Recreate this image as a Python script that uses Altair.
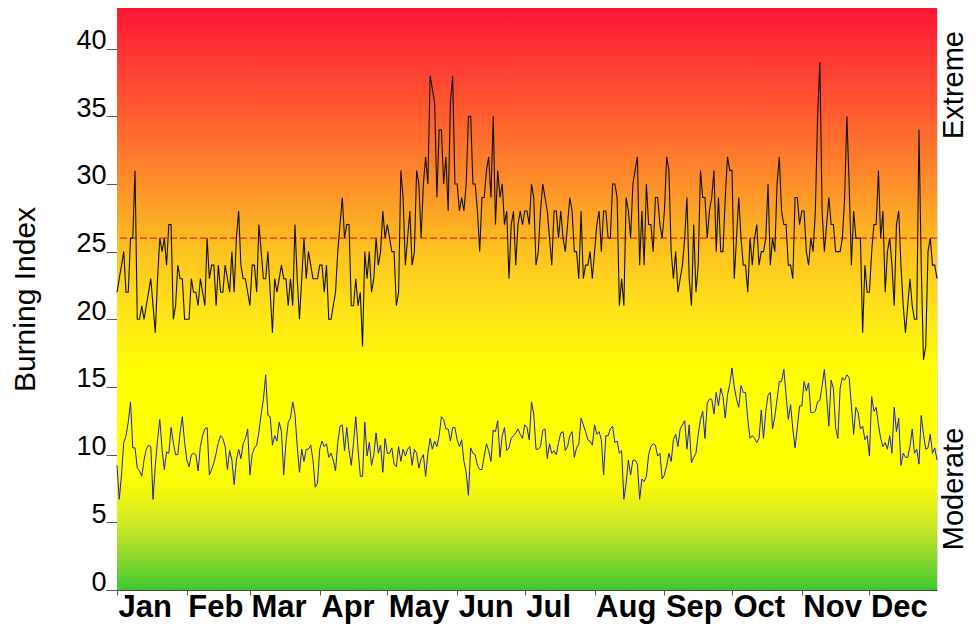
import altair as alt
import pandas as pd

MONTHS = ["Jan", "Feb", "Mar", "Apr", "May", "Jun", "Jul", "Aug", "Sep", "Oct", "Nov", "Dec"]
MONTH_START = [0, 31, 59, 90, 120, 151, 181, 212, 243, 273, 304, 334]
Y_TICKS = [0, 5, 10, 15, 20, 25, 30, 35, 40]
THRESHOLD = 26

BI = [
    22, 23, 24, 25, 22, 22, 26, 26, 31, 20,
    20, 21, 20, 21, 22, 23, 21, 19, 23, 26,
    25, 26, 24, 27, 27, 20, 21, 24, 23, 23,
    20, 20, 20, 23, 22, 22, 21, 23, 22, 21,
    26, 23, 24, 24, 21, 24, 22, 22, 24, 23,
    22, 25, 22, 26, 28, 24, 23, 23, 22, 21,
    24, 24, 22, 27, 25, 23, 23, 25, 22, 19,
    23, 22, 23, 24, 23, 23, 21, 23, 21, 27,
    23, 20, 23, 26, 23, 25, 24, 23, 23, 23,
    24, 24, 22, 24, 20, 20, 21, 22, 25, 27,
    29, 26, 27, 27, 21, 21, 23, 21, 22, 18,
    25, 23, 25, 22, 23, 26, 24, 25, 28, 26,
    27, 26, 25, 25, 21, 22, 31, 29, 24, 26,
    28, 24, 25, 31, 30, 26, 30, 32, 30, 38,
    37, 36, 29, 34, 34, 30, 32, 28, 36, 38,
    30, 30, 28, 29, 28, 30, 35, 35, 30, 30,
    28, 25, 29, 29, 31, 32, 29, 35, 27, 31,
    29, 30, 27, 28, 23, 27, 28, 24, 27, 28,
    27, 28, 28, 27, 30, 29, 24, 25, 28, 30,
    29, 28, 26, 24, 28, 28, 26, 28, 26, 25,
    27, 29, 28, 25, 25, 23, 28, 23, 24, 24,
    25, 23, 25, 27, 28, 25, 28, 28, 26, 26,
    30, 30, 29, 21, 23, 21, 29, 28, 26, 30,
    31, 32, 24, 28, 24, 30, 27, 27, 25, 29,
    29, 27, 26, 28, 32, 31, 25, 23, 25, 22,
    23, 24, 26, 29, 23, 21, 27, 22, 24, 31,
    29, 29, 26, 28, 29, 31, 25, 29, 25, 25,
    29, 32, 31, 31, 23, 26, 29, 26, 24, 24,
    22, 26, 24, 26, 27, 24, 25, 25, 26, 30,
    24, 26, 25, 30, 32, 28, 27, 27, 24, 24,
    23, 29, 29, 27, 28, 28, 25, 24, 26, 25,
    28, 35, 39, 28, 25, 27, 29, 27, 27, 25,
    25, 25, 26, 29, 35, 30, 24, 28, 26, 26,
    26, 19, 24, 22, 22, 25, 27, 27, 31, 26,
    28, 22, 25, 26, 24, 21, 27, 28, 24, 21,
    19, 21, 23, 21, 20, 20, 34, 24, 17, 18,
    25, 26, 24, 24, 23,
]

LOWER = [
    9.2, 6.7, 8.5, 10.9, 11.4, 12.4, 13.9, 10.5, 10.5, 9.0,
    8.8, 8.4, 9.6, 10.4, 10.7, 10.6, 6.7, 9.2, 11.1, 12.6,
    10.4, 8.9, 10.2, 10.1, 12.0, 10.9, 10.0, 10.0, 11.6, 12.8,
    10.9, 9.6, 9.1, 10.0, 10.1, 10.0, 8.8, 10.6, 11.4, 11.9,
    12.0, 8.5, 8.9, 9.4, 10.1, 10.9, 11.4, 11.2, 10.6, 8.9,
    10.3, 9.6, 7.8, 9.6, 10.4, 9.7, 10.8, 11.2, 11.9, 8.5,
    10.0, 10.5, 10.7, 11.7, 13.0, 14.1, 15.9, 12.9, 12.8, 10.7,
    11.4, 11.0, 12.4, 11.7, 8.5, 10.9, 12.4, 12.7, 13.9, 13.0,
    10.6, 8.7, 10.4, 9.5, 10.4, 10.4, 10.7, 9.6, 7.6, 7.9,
    10.4, 11.0, 10.6, 10.8, 9.8, 10.1, 9.6, 8.8, 10.9, 12.1,
    12.2, 10.3, 12.0, 10.3, 9.2, 10.9, 12.8, 10.4, 8.4, 8.4,
    12.4, 9.9, 10.9, 9.2, 10.0, 11.6, 10.1, 10.7, 8.7, 11.2,
    10.1, 10.1, 10.5, 9.3, 9.1, 10.6, 9.5, 10.4, 9.9, 10.4,
    10.6, 9.2, 10.4, 10.1, 9.0, 9.7, 10.0, 8.4, 10.1, 11.2,
    10.4, 11.0, 10.6, 11.4, 12.8, 12.6, 11.9, 11.9, 11.0, 12.0,
    12.0, 11.1, 10.6, 11.1, 9.5, 8.7, 7.0, 10.5, 10.1, 10.0,
    9.2, 8.9, 8.9, 9.9, 10.8, 10.3, 9.5, 11.8, 11.7, 12.5,
    9.8, 11.4, 12.0, 10.3, 10.5, 11.2, 11.4, 11.6, 11.9, 11.5,
    11.2, 12.2, 12.0, 11.1, 13.9, 13.0, 10.4, 10.4, 10.6, 11.8,
    11.9, 9.7, 10.8, 10.1, 10.3, 10.0, 10.9, 11.6, 11.7, 10.3,
    10.6, 11.4, 11.7, 9.8, 10.5, 10.8, 12.7, 12.2, 11.7, 11.1,
    11.0, 10.7, 12.2, 11.5, 11.7, 11.1, 8.5, 11.4, 11.4, 11.9,
    12.1, 10.9, 11.0, 10.1, 10.3, 6.7, 7.9, 9.6, 8.5, 9.6,
    9.6, 9.3, 6.7, 8.2, 8.0, 8.4, 10.0, 10.6, 10.8, 10.7,
    9.9, 10.1, 8.2, 8.5, 9.2, 10.1, 9.5, 11.1, 11.5, 10.6,
    11.9, 12.2, 12.5, 10.4, 12.2, 9.4, 9.8, 10.1, 11.5, 12.6,
    13.2, 11.2, 13.8, 14.1, 14.1, 13.0, 14.6, 13.6, 14.9, 14.3,
    12.7, 14.4, 15.2, 16.4, 15.0, 14.1, 13.5, 15.1, 14.6, 14.6,
    12.6, 11.2, 11.4, 11.2, 10.9, 11.2, 13.3, 11.2, 13.2, 14.4,
    14.6, 11.9, 12.8, 14.1, 15.4, 15.4, 16.3, 14.4, 12.6, 13.7,
    11.9, 10.5, 12.0, 13.6, 13.6, 15.4, 14.7, 15.3, 13.1, 13.1,
    13.2, 13.9, 14.0, 15.1, 16.3, 14.3, 12.1, 15.5, 14.9, 12.0,
    11.2, 14.9, 15.7, 15.5, 15.9, 15.7, 13.6, 11.5, 13.5, 13.1,
    11.9, 12.1, 11.1, 11.4, 9.9, 14.3, 13.2, 13.5, 12.2, 11.2,
    10.6, 10.9, 10.4, 11.4, 10.1, 13.5, 11.7, 12.7, 9.2, 10.1,
    9.8, 9.8, 10.6, 11.9, 10.1, 10.4, 9.3, 12.9, 11.5, 10.4,
    10.5, 11.5, 10.1, 10.5, 9.6,
]

W, H = 820, 582
FONT = "Liberation Sans"

df_bi = pd.DataFrame({"day": list(range(len(BI))), "value": BI})
df_lo = pd.DataFrame({"day": list(range(len(LOWER))), "value": LOWER})
one = pd.DataFrame({"k": [0]})

month_js = "[" + ",".join("'%s'" % m for m in MONTHS) + "]"
start_js = "[" + ",".join(str(s) for s in MONTH_START) + "]"

x_scale = alt.Scale(domain=[0, 364], nice=False, zero=False)
y_scale = alt.Scale(domain=[0, 43], nice=False, zero=True)

x_axis = alt.Axis(
    values=MONTH_START,
    labelExpr=f"{month_js}[indexof({start_js}, datum.value)]",
    title=None,
    grid=False,
    labelFont=FONT,
    labelFontSize=31,
    labelFontWeight="bold",
    labelColor="black",
    labelAlign="left",
    labelBaseline="alphabetic",
    labelPadding=21,
    labelFlush=False,
    labelOverlap=False,
    labelOffset=1,
    tickSize=5,
    tickColor="#555555",
    domainColor="#444444",
)

y_axis = alt.Axis(
    values=Y_TICKS,
    title="Burning Index",
    grid=False,
    labelFont=FONT,
    labelFontSize=27,
    labelColor="black",
    labelBaseline="alphabetic",
    labelPadding=0,
    labelOverlap=False,
    tickSize=11,
    tickColor="#555555",
    domainColor="#444444",
    titleFont=FONT,
    titleFontSize=30,
    titleFontWeight="normal",
    titleColor="black",
    titleAngle=270,
    titleAlign="center",
    titleBaseline="middle",
    titleX=-92,
    titleY=H / 2,
)

grad = alt.Gradient(
    gradient="linear",
    x1=0, x2=0, y1=1, y2=0,
    stops=[
        alt.GradientStop(offset=0.0, color="#3ec832"),
        alt.GradientStop(offset=0.058, color="#8ed82e"),
        alt.GradientStop(offset=0.116, color="#cfe924"),
        alt.GradientStop(offset=0.174, color="#f6f80b"),
        alt.GradientStop(offset=0.21, color="#ffff00"),
        alt.GradientStop(offset=0.37, color="#ffff00"),
        alt.GradientStop(offset=0.465, color="#ffe818"),
        alt.GradientStop(offset=0.581, color="#fdc321"),
        alt.GradientStop(offset=0.698, color="#fd8f2a"),
        alt.GradientStop(offset=0.814, color="#ff5f30"),
        alt.GradientStop(offset=0.93, color="#ff3235"),
        alt.GradientStop(offset=1.0, color="#ff1535"),
    ],
)

bg = alt.Chart(one).mark_rect(color=grad).encode(
    x=alt.value(0), x2=alt.value(W), y=alt.value(0), y2=alt.value(H)
)

thr = alt.Chart(one).mark_rule(color="#dd0a0a", strokeDash=[7, 3], strokeWidth=1).encode(
    y=alt.datum(THRESHOLD, scale=y_scale, axis=y_axis)
)

line_bi = alt.Chart(df_bi).mark_line(color="#111111", strokeWidth=1.1).encode(
    x=alt.X("day:Q", scale=x_scale, axis=x_axis),
    y=alt.Y("value:Q", scale=y_scale, axis=y_axis),
)

line_lo = alt.Chart(df_lo).mark_line(color="#1c1cc8", strokeWidth=1).encode(
    x=alt.X("day:Q", scale=x_scale, axis=x_axis),
    y=alt.Y("value:Q", scale=y_scale, axis=y_axis),
)

txt_ext = alt.Chart(one).mark_text(
    text="Extreme", angle=270, font=FONT, fontSize=29, color="black",
    align="center", baseline="middle",
).encode(x=alt.value(W + 17), y=alt.value(77))

txt_mod = alt.Chart(one).mark_text(
    text="Moderate", angle=270, font=FONT, fontSize=29, color="black",
    align="center", baseline="middle",
).encode(x=alt.value(W + 17), y=alt.value(481))

chart = (
    alt.layer(bg, thr, line_bi, line_lo, txt_ext, txt_mod)
    .properties(
        width=W,
        height=H,
        autosize=alt.AutoSizeParams(type="none"),
        padding={"left": 109, "top": 0, "right": 33, "bottom": 35},
    )
    .configure_view(stroke="#333333", strokeWidth=1)
    .configure(font=FONT, background="white")
)

chart.save("out.html", embed_options={"renderer": "svg", "actions": False})
